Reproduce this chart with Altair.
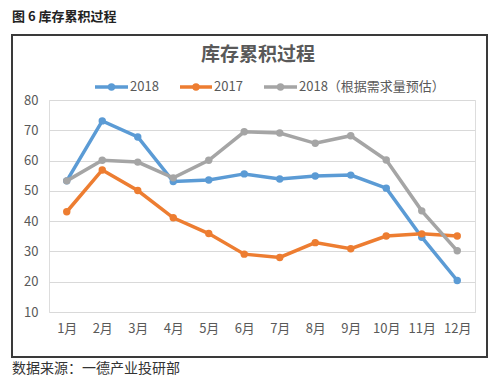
import altair as alt
import pandas as pd

months = ["1月", "2月", "3月", "4月", "5月", "6月", "7月", "8月", "9月", "10月", "11月", "12月"]
s2018 = [53.3, 73.1, 67.8, 53.1, 53.6, 55.6, 53.9, 54.9, 55.2, 50.9, 34.7, 20.4]
s2017 = [43.1, 56.9, 50.1, 41.1, 35.9, 29.1, 28.0, 32.9, 30.9, 35.1, 35.8, 35.1]
s2018e = [53.3, 60.1, 59.5, 54.3, 60.1, 69.5, 69.1, 65.7, 68.2, 60.2, 43.4, 30.2]
series_names = ["2018", "2017", "2018（根据需求量预估）"]
colors = ["#5B9BD5", "#ED7D31", "#A5A5A5"]

FONT = "Noto Sans CJK SC"
W, H = 426, 212

rows = []
for name, vals in zip(series_names, [s2018, s2017, s2018e]):
    for m, v in zip(months, vals):
        rows.append({"month": m, "value": v, "series": name})
df = pd.DataFrame(rows)

x_enc = alt.X("month:O", sort=months,
              scale=alt.Scale(type="point", padding=0.5),
              axis=alt.Axis(title=None, labelAngle=0, domain=False, ticks=False,
                            labelFont=FONT, labelFontSize=13, labelColor="#595959",
                            labelPadding=10, grid=False))
y_enc = alt.Y("value:Q",
              scale=alt.Scale(domain=[10, 80], nice=False, zero=False),
              axis=alt.Axis(title=None, values=[10, 20, 30, 40, 50, 60, 70, 80],
                            domain=False, ticks=False, labelFont=FONT, labelFontSize=13,
                            labelColor="#595959", labelPadding=11,
                            gridColor="#D9D9D9", gridWidth=1))

layers = []
# frame
frame = alt.Chart(pd.DataFrame({"a": [0]})).mark_rect(
    fill="transparent", stroke="#3a3a3a", strokeWidth=2
).encode(x=alt.value(-37), x2=alt.value(438), y=alt.value(-65), y2=alt.value(257))
layers.append(frame)

for name, col in zip(series_names, colors):
    d = df[df.series == name]
    base = alt.Chart(d).encode(x=x_enc, y=y_enc)
    layers.append(base.mark_line(color=col, strokeWidth=3.5))
    layers.append(base.mark_point(color=col, filled=True, size=55, opacity=1))

# legend
leg = [(46, 79, 81), (131, 163, 165), (215, 248, 250)]
ly = -13
for (x1, x2, tx), name, col in zip(leg, series_names, colors):
    ld = pd.DataFrame({"a": [0]})
    layers.append(alt.Chart(ld).mark_rule(color=col, strokeWidth=3.5).encode(
        x=alt.value(x1), x2=alt.value(x2), y=alt.value(ly)))
    layers.append(alt.Chart(ld).mark_point(color=col, filled=True, size=55, opacity=1).encode(
        x=alt.value((x1 + x2) / 2), y=alt.value(ly)))
    layers.append(alt.Chart(ld).mark_text(text=name, align="left", baseline="middle",
                                          font=FONT, fontSize=13, color="#595959").encode(
        x=alt.value(tx), y=alt.value(ly)))

# titles
td = pd.DataFrame({"a": [0]})
layers.append(alt.Chart(td).mark_text(text="库存累积过程", align="center", baseline="middle",
                                      font=FONT, fontSize=19, fontWeight="bold",
                                      color="#595959").encode(
    x=alt.value(209), y=alt.value(-45)))
layers.append(alt.Chart(td).mark_text(text="图 6  库存累积过程", align="left", baseline="middle",
                                      font=FONT, fontSize=13, fontWeight="bold",
                                      color="#222222").encode(
    x=alt.value(-37), y=alt.value(-83)))
layers.append(alt.Chart(td).mark_text(text="数据来源：一德产业投研部", align="left", baseline="middle",
                                      font=FONT, fontSize=14, color="#333333").encode(
    x=alt.value(-37), y=alt.value(269)))

chart = alt.layer(*layers).properties(
    width=W, height=H,
    autosize=alt.AutoSizeParams(type="none"),
    padding={"left": 41, "top": 92, "right": 14, "bottom": 72},
).configure_view(stroke=None).configure(background="white")

chart.save("out.html", embed_options={"renderer": "svg", "actions": False})
